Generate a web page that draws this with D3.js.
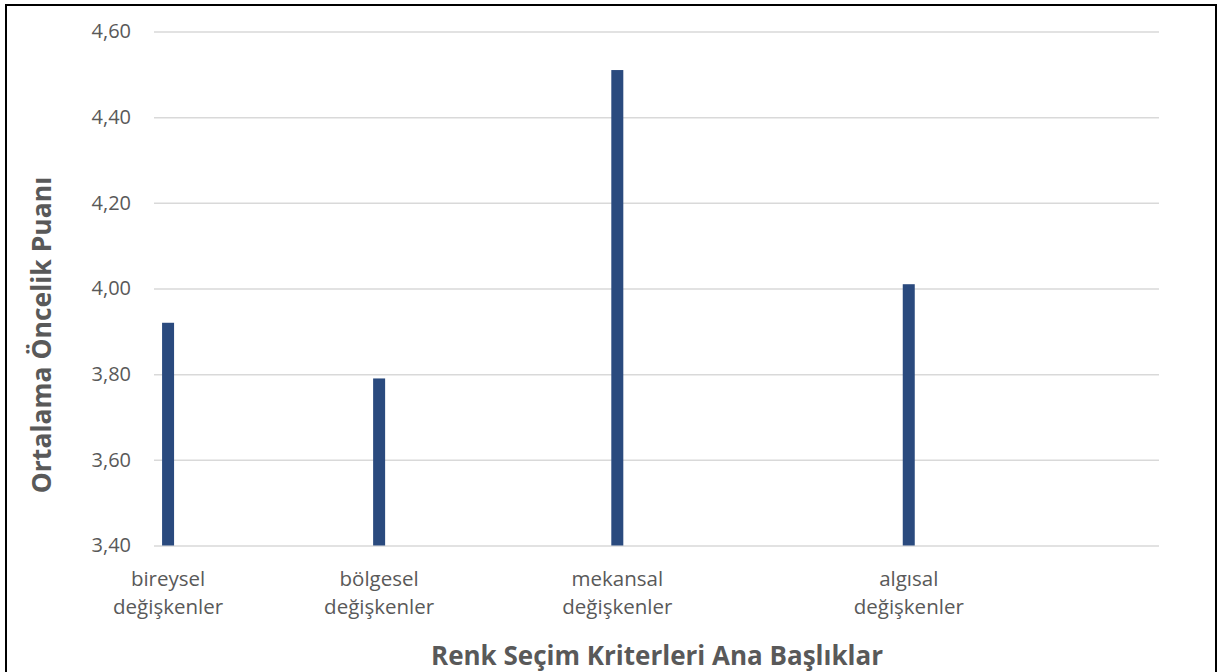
<!DOCTYPE html>
<html>
<head>
<meta charset="utf-8">
<script src="https://cdn.jsdelivr.net/npm/d3@7"></script>
<style>
  body { margin: 0; background: #fff; }
  svg { display: block; font-family: "Open Sans", "Noto Sans", sans-serif; }
</style>
</head>
<body>
<script>
// chart data
var categories = ["bireysel değişkenler", "bölgesel değişkenler", "mekansal değişkenler", "algısal değişkenler"];
var categoryX = [1.4, 22.4, 46.1, 75.1];   // horizontal position of each category on a 0-100 axis
var values = [3.92, 3.79, 4.51, 4.01];
var yTicks = [3.40, 3.60, 3.80, 4.00, 4.20, 4.40, 4.60];

var yTitle = "Ortalama Öncelik Puanı";
var xTitle = "Renk Seçim Kriterleri Ana Başlıklar";

var W = 1227, H = 672;
var margin = {top: 31.5, right: 68, bottom: 126.5, left: 154};
var width = W - margin.left - margin.right;
var height = H - margin.top - margin.bottom;

var svg = d3.select("body").append("svg")
    .attr("width", W)
    .attr("height", H);

// frame round the chart
svg.append("rect")
    .attr("x", 6).attr("y", 5)
    .attr("width", 1210).attr("height", 680)
    .attr("fill", "none")
    .attr("stroke", "#000")
    .attr("stroke-width", 2);

var g = svg.append("g")
    .attr("transform", "translate(" + margin.left + "," + margin.top + ")");

var x = d3.scaleLinear().domain([0, 100]).range([0, width]);
var y = d3.scaleLinear().domain([3.4, 4.6]).range([height, 0]);

var fmt = function(d) { return d3.format(".2f")(d).replace(".", ","); };

// gridlines + tick labels
var yAxis = g.append("g").attr("class", "y-axis")
    .call(d3.axisLeft(y).tickValues(yTicks).tickSize(-width).tickPadding(23).tickFormat(fmt));
yAxis.attr("font-family", null).attr("font-size", null);
yAxis.select(".domain").remove();
yAxis.selectAll("line").attr("stroke", "#d9d9d9").attr("stroke-width", 1.5);
yAxis.selectAll("text")
    .attr("fill", "#595959")
    .style("font-size", "20px");

// bars
g.selectAll(".bar").data(values).enter().append("rect")
    .attr("class", "bar")
    .attr("x", function(d, i) { return x(categoryX[i]) - 6; })
    .attr("width", 12)
    .attr("y", function(d) { return y(d); })
    .attr("height", function(d) { return height - y(d); })
    .attr("fill", "#2a4a7e");

// category labels, two lines each
var labels = g.selectAll(".cat-label").data(categories).enter().append("text")
    .attr("class", "cat-label")
    .attr("text-anchor", "middle")
    .attr("fill", "#595959")
    .style("font-size", "20.5px")
    .attr("transform", function(d, i) { return "translate(" + x(categoryX[i]) + "," + (height + 40) + ")"; });
labels.each(function(d) {
    var t = d3.select(this);
    d.split(" ").forEach(function(w, k) {
        t.append("tspan").attr("x", 0).attr("y", k * 28).text(w);
    });
});

// axis titles
svg.append("text")
    .attr("transform", "translate(51,335)rotate(-90)")
    .attr("text-anchor", "middle")
    .attr("fill", "#595959")
    .style("font-size", "26.5px")
    .style("font-weight", "bold")
    .text(yTitle);

svg.append("text")
    .attr("x", 657)
    .attr("y", 665)
    .attr("text-anchor", "middle")
    .attr("fill", "#595959")
    .style("font-size", "26px")
    .style("font-weight", "bold")
    .text(xTitle);
</script>
</body>
</html>
